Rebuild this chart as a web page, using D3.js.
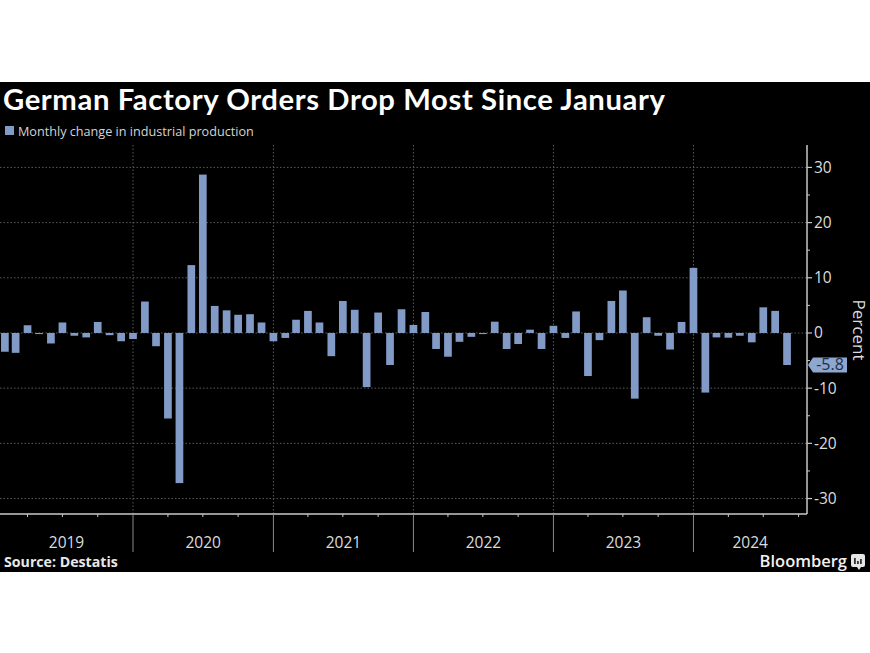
<!DOCTYPE html>
<html>
<head>
<meta charset="utf-8">
<script src="https://cdn.jsdelivr.net/npm/d3@7"></script>
<style>
  html, body { margin: 0; padding: 0; background: #ffffff; }
  svg { display: block; }
</style>
</head>
<body>
<svg id="chart" width="870" height="653"></svg>
<script>
// ---------------- DATA ----------------
const title = "German Factory Orders Drop Most Since January";
const legendLabel = "Monthly change in industrial production";
const sourceText = "Source: Destatis";
const firstMonth = "2019-01";
const values = [
  // 2019
  -3.4, -3.6, 1.4, -0.2, -1.9, 1.9, -0.5, -0.8, 2.0, -0.4, -1.5, -1.1,
  // 2020
  5.7, -2.4, -15.5, -27.2, 12.3, 28.7, 4.9, 4.1, 3.3, 3.4, 1.9, -1.5,
  // 2021
  -0.9, 2.4, 4.0, 1.9, -4.2, 5.8, 4.2, -9.8, 3.7, -5.8, 4.3, 1.45,
  // 2022
  3.8, -2.9, -4.3, -1.6, -0.7, -0.2, 2.05, -2.9, -2.0, 0.6, -2.9, 1.3,
  // 2023
  -0.9, 3.9, -7.8, -1.3, 5.8, 7.7, -11.9, 2.85, -0.5, -3.0, 2.0, 11.8,
  // 2024
  -10.8, -0.8, -0.85, -0.5, -1.7, 4.65, 4.0, -5.8
];
const yearLabels = ["2019", "2020", "2021", "2022", "2023", "2024"];
const yTicks = [30, 20, 10, 0, -10, -20, -30];
const yMinorTicks = [25, 15, 5, -5, -15, -25];
const lastLabel = "-5.8";
const yAxisTitle = "Percent";

// ---------------- LAYOUT ----------------
const W = 870, H = 653;
const bgTop = 82, bgBottom = 572;
const plotTop = 145, plotBottom = 514, plotRight = 807;
const barColor = "#819bc6";
const textColor = "#dcdcdc";
const gridColor = "#5a5a5a";

const parseMonth = d3.timeParse("%Y-%m");
const start = parseMonth(firstMonth);
const data = values.map((v, i) => {
  const m = d3.timeMonth.offset(start, i);
  return { month: m, end: d3.timeMonth.offset(m, 1), value: v };
});

const x = d3.scaleTime()
  .domain([new Date(2019, 0, 1), new Date(2024, 9, 23)])
  .range([-7, plotRight]);
const y = d3.scaleLinear()
  .domain([-32.8, 34.06])
  .range([plotBottom, plotTop]);

const svg = d3.select("#chart");

svg.append("rect").attr("x", 0).attr("y", bgTop).attr("width", W).attr("height", bgBottom - bgTop).attr("fill", "#000");

function fitWidth(sel, target) {
  const w = sel.node().getComputedTextLength();
  const fs = parseFloat(sel.attr("font-size"));
  sel.attr("font-size", fs * target / w);
}

// Title
const t = svg.append("text").attr("x", 3).attr("y", 110)
  .attr("font-family", "Lato, 'Open Sans', sans-serif").attr("font-weight", 700)
  .attr("font-size", 28).attr("letter-spacing", 0.6).attr("fill", "#fff").text(title);
fitWidth(t, 664);

// Legend
svg.append("rect").attr("x", 5).attr("y", 126).attr("width", 9).attr("height", 9).attr("fill", barColor);
const lg = svg.append("text").attr("x", 18).attr("y", 136)
  .attr("font-family", "'Open Sans', Lato, sans-serif").attr("font-size", 13)
  .attr("fill", "#d4d4d4").text(legendLabel);
fitWidth(lg, 236);

svg.append("defs").append("clipPath").attr("id", "plotclip")
  .append("rect").attr("x", 0).attr("y", plotTop).attr("width", plotRight).attr("height", plotBottom - plotTop);

// Horizontal gridlines
svg.append("g").selectAll("line").data(yTicks).join("line")
  .attr("x1", 0).attr("x2", plotRight)
  .attr("y1", d => y(d)).attr("y2", d => y(d))
  .attr("stroke", gridColor).attr("stroke-width", 1).attr("stroke-dasharray", "1.5,2");

// Year boundaries
const yearStarts = d3.timeYear.range(new Date(2020, 0, 1), new Date(2025, 0, 1));
svg.append("g").selectAll("line").data(yearStarts).join("line")
  .attr("x1", d => x(d)).attr("x2", d => x(d))
  .attr("y1", plotTop).attr("y2", plotBottom)
  .attr("stroke", gridColor).attr("stroke-width", 1).attr("stroke-dasharray", "1.5,2");

// Bars
const bw = 7.7;
svg.append("g").attr("clip-path", "url(#plotclip)")
  .selectAll("rect").data(data).join("rect")
  .attr("x", d => x(d.end) - bw / 2)
  .attr("width", bw)
  .attr("y", d => y(Math.max(0, d.value)))
  .attr("height", d => Math.max(0.8, Math.abs(y(d.value) - y(0))))
  .attr("fill", barColor);

// Bottom axis
const axG = svg.append("g");
axG.append("line").attr("x1", 0).attr("x2", plotRight).attr("y1", plotBottom).attr("y2", plotBottom)
  .attr("stroke", "#c8c8c8").attr("stroke-width", 1.5);
const quarters = d3.timeMonth.every(3).range(new Date(2019, 0, 1), new Date(2024, 9, 23))
  .filter(d => d.getMonth() !== 0);
axG.selectAll("line.q").data(quarters).join("line").attr("class", "q")
  .attr("x1", d => x(d)).attr("x2", d => x(d))
  .attr("y1", plotBottom).attr("y2", plotBottom + 3)
  .attr("stroke", "#c8c8c8").attr("stroke-width", 1);
axG.selectAll("line.yr").data(yearStarts).join("line").attr("class", "yr")
  .attr("x1", d => x(d)).attr("x2", d => x(d))
  .attr("y1", plotBottom).attr("y2", 552)
  .attr("stroke", "#8a8a8a").attr("stroke-width", 1);
axG.selectAll("text").data(yearLabels).join("text")
  .attr("x", d => {
    const a = Math.max(0, x(new Date(+d, 0, 1)));
    const b = Math.min(plotRight, x(new Date(+d + 1, 0, 1)));
    return (a + b) / 2;
  })
  .attr("y", 548).attr("text-anchor", "middle")
  .attr("font-family", "'Open Sans', sans-serif").attr("font-size", 15.5)
  .attr("fill", textColor).text(d => d);

// Right axis
const ra = svg.append("g");
ra.append("line").attr("x1", plotRight).attr("x2", plotRight).attr("y1", plotTop).attr("y2", plotBottom)
  .attr("stroke", "#c8c8c8").attr("stroke-width", 1.5);
ra.selectAll("line.maj").data(yTicks).join("line").attr("class", "maj")
  .attr("x1", plotRight).attr("x2", plotRight + 5)
  .attr("y1", d => y(d)).attr("y2", d => y(d))
  .attr("stroke", "#c8c8c8").attr("stroke-width", 1.2);
ra.selectAll("line.min").data(yMinorTicks).join("line").attr("class", "min")
  .attr("x1", plotRight).attr("x2", plotRight + 3)
  .attr("y1", d => y(d)).attr("y2", d => y(d))
  .attr("stroke", "#c8c8c8").attr("stroke-width", 1);
ra.selectAll("text").data(yTicks).join("text")
  .attr("x", plotRight + 7).attr("y", d => y(d) + 5.5)
  .attr("font-family", "'Open Sans', sans-serif").attr("font-size", 15.5)
  .attr("fill", textColor).text(d => d < 0 ? "-" + Math.abs(d) : d);

svg.append("text")
  .attr("transform", `translate(853,${330}) rotate(90)`)
  .attr("text-anchor", "middle")
  .attr("font-family", "'Open Sans', sans-serif").attr("font-size", 17)
  .attr("fill", textColor).text(yAxisTitle);

// Last value callout
const last = data[data.length - 1];
const cy = y(last.value);
const cx = plotRight + 1;
svg.append("path")
  .attr("d", `M${cx},${cy} L${cx + 5},${cy - 7.5} L${cx + 39},${cy - 7.5} L${cx + 39},${cy + 7.5} L${cx + 5},${cy + 7.5} Z`)
  .attr("fill", "#8ea7cf");
svg.append("text").attr("x", cx + 22).attr("y", cy + 5.5).attr("text-anchor", "middle")
  .attr("font-family", "'Open Sans', sans-serif").attr("font-size", 16)
  .attr("fill", "#1c2d4d").text(lastLabel);

// Footer
const src = svg.append("text").attr("x", 4).attr("y", 567)
  .attr("font-family", "'Open Sans', sans-serif").attr("font-weight", 700)
  .attr("font-size", 13).attr("fill", "#e8e8e8").text(sourceText);
fitWidth(src, 114);

svg.append("text").attr("x", 847).attr("y", 567).attr("text-anchor", "end")
  .attr("font-family", "'Open Sans', sans-serif").attr("font-weight", 600)
  .attr("font-size", 16.5).attr("fill", "#f2f2f2").text("Bloomberg");
// logo
const lgX = 851, lgY = 554;
svg.append("rect").attr("x", lgX).attr("y", lgY).attr("width", 14).attr("height", 13).attr("rx", 2).attr("fill", "#e6e6e6");
svg.append("path").attr("d", `M${lgX + 6},${lgY + 13} L${lgX + 8},${lgY + 16} L${lgX + 10},${lgY + 13} Z`).attr("fill", "#e6e6e6");
[[3, 6], [6, 3], [9, 5]].forEach(([dx, h]) => {
  svg.append("rect").attr("x", lgX + dx).attr("y", lgY + 10 - h).attr("width", 1.8).attr("height", h).attr("fill", "#333");
});
</script>
</body>
</html>
